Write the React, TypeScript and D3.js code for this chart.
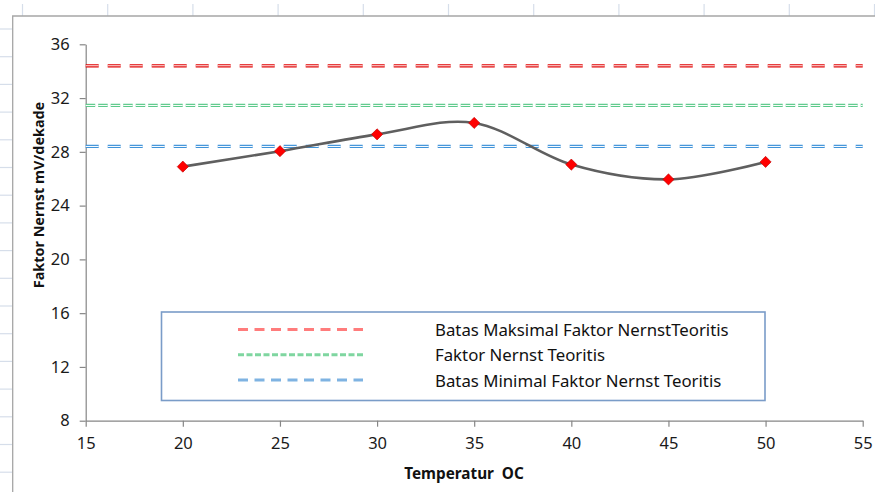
import React, { useRef, useEffect } from "react";
import * as d3 from "d3";

// data
const temps = [20, 25, 30, 35, 40, 45, 50];
const faktorNernst = [26.9, 28.05, 29.3, 30.15, 27.05, 25.95, 27.25];

const refNames = [
  "Batas Maksimal Faktor NernstTeoritis",
  "Faktor Nernst Teoritis",
  "Batas Minimal Faktor Nernst Teoritis",
];
const refValues = [34.4, 31.45, 28.4];

const xTicks = [15, 20, 25, 30, 35, 40, 45, 50, 55];
const yTicks = [8, 12, 16, 20, 24, 28, 32, 36];

// styles for the three reference lines
const refStroke = ["#e00000", "#5cc98a", "#3f93d9"];
const refDash = ["13 9", "9.5 3", "13 9"];
const legendStroke = ["#ff7c7c", "#7fd6a0", "#7fb3e2"];
const legendDash = ["10 6.5", "6 2.5", "10 6.5"];

const FONT = "'Noto Sans', 'Open Sans', sans-serif";

export default function App() {
  const svgRef = useRef<SVGSVGElement>(null);

  useEffect(() => {
    if (!svgRef.current) return;
    const svg = d3.select(svgRef.current);
    svg.selectAll("*").remove();

    const width = 875;
    const height = 492;
    const margin = { top: 44.3, right: 12.3, bottom: 71.3, left: 85.7 };

    svg.append("rect").attr("width", width).attr("height", height).attr("fill", "white");

    // spreadsheet cell lines peeking out around the chart
    const grid = svg.append("g").attr("stroke", "#d6deea").attr("stroke-width", 1.2);
    for (let gx = 22.5; gx < width; gx += 85.2) {
      grid.append("line").attr("x1", gx).attr("x2", gx).attr("y1", 4).attr("y2", 16);
    }
    for (let gy = 29; gy < height; gy += 27.7) {
      grid.append("line").attr("x1", 0).attr("x2", 12).attr("y1", gy).attr("y2", gy);
    }

    // chart frame
    svg.append("path")
      .attr("d", `M12.7,${height + 5} V16 H${width + 5}`)
      .attr("fill", "none")
      .attr("stroke", "#a6a6a6")
      .attr("stroke-width", 1.3);

    const x = d3.scaleLinear()
      .domain([15, 55])
      .range([margin.left, width - margin.right]);

    const y = d3.scaleLinear()
      .domain([8, 36])
      .range([height - margin.bottom, margin.top]);

    // axes
    const xAxis = svg.append("g")
      .attr("transform", `translate(0,${y(8)})`)
      .call(d3.axisBottom(x).tickValues(xTicks).tickSize(6).tickSizeOuter(0).tickPadding(11));
    const yAxis = svg.append("g")
      .attr("transform", `translate(${x(15)},0)`)
      .call(d3.axisLeft(y).tickValues(yTicks).tickSize(6).tickSizeOuter(0).tickPadding(10));
    [xAxis, yAxis].forEach(a => {
      a.selectAll("path, line").attr("stroke", "#868686").attr("stroke-width", 1.2);
      a.selectAll("text")
        .attr("fill", "#1a1a1a")
        .style("font-family", FONT)
        .style("font-size", "16.5px");
    });

    // reference lines (double dashed)
    refValues.forEach((v, i) => {
      const yy = y(v);
      svg.append("line")
        .attr("x1", x(15)).attr("x2", x(55)).attr("y1", yy).attr("y2", yy)
        .attr("stroke", refStroke[i]).attr("stroke-width", 3.2)
        .attr("stroke-dasharray", refDash[i]);
      svg.append("line")
        .attr("x1", x(15)).attr("x2", x(55)).attr("y1", yy).attr("y2", yy)
        .attr("stroke", "white").attr("stroke-width", 1)
        .attr("stroke-dasharray", refDash[i]);
    });

    // measured series, smoothed like Excel
    const pts = temps.map((t, i) => [t, faktorNernst[i]] as [number, number]);
    const line = d3.line<[number, number]>()
      .x(d => x(d[0]))
      .y(d => y(d[1]))
      .curve(d3.curveCatmullRom.alpha(0));

    svg.append("path")
      .datum(pts)
      .attr("fill", "none")
      .attr("stroke", "#5f5f5f")
      .attr("stroke-width", 2.6)
      .attr("d", line);

    svg.append("g")
      .selectAll("path")
      .data(pts)
      .join("path")
      .attr("d", d3.symbol(d3.symbolSquare, 62)())
      .attr("transform", d => `translate(${x(d[0])},${y(d[1])}) rotate(45)`)
      .attr("fill", "#ff0000")
      .attr("stroke", "#c00000")
      .attr("stroke-width", 0.6);

    // legend
    const lg = svg.append("g");
    lg.append("rect")
      .attr("x", 161.5).attr("y", 312)
      .attr("width", 603.5).attr("height", 88.5)
      .attr("fill", "white")
      .attr("stroke", "#7a9cc8")
      .attr("stroke-width", 1.6);
    refNames.forEach((name, i) => {
      const ly = 329.5 + i * 25.3;
      lg.append("line")
        .attr("x1", 238).attr("x2", 363).attr("y1", ly).attr("y2", ly)
        .attr("stroke", legendStroke[i]).attr("stroke-width", 3)
        .attr("stroke-dasharray", legendDash[i]);
      lg.append("text")
        .attr("x", 435).attr("y", ly + 6.5)
        .attr("fill", "#111")
        .style("font-family", FONT)
        .style("font-size", "16.8px")
        .text(name);
    });

    // axis titles
    svg.append("text")
      .attr("x", 464).attr("y", 479)
      .attr("text-anchor", "middle")
      .attr("fill", "#111")
      .style("font-family", FONT)
      .style("font-size", "15.3px")
      .style("font-weight", "bold")
      .style("white-space", "pre")
      .text("Temperatur  OC");

    svg.append("text")
      .attr("transform", `translate(44,195) rotate(-90)`)
      .attr("text-anchor", "middle")
      .attr("fill", "#111")
      .style("font-family", FONT)
      .style("font-size", "14.4px")
      .style("font-weight", "bold")
      .text("Faktor Nernst mV/dekade");
  }, []);

  return (
    <svg
      ref={svgRef}
      width={875}
      height={492}
      viewBox="0 0 875 492"
      style={{ position: "absolute", left: 0, top: 0, display: "block" }}
    />
  );
}
